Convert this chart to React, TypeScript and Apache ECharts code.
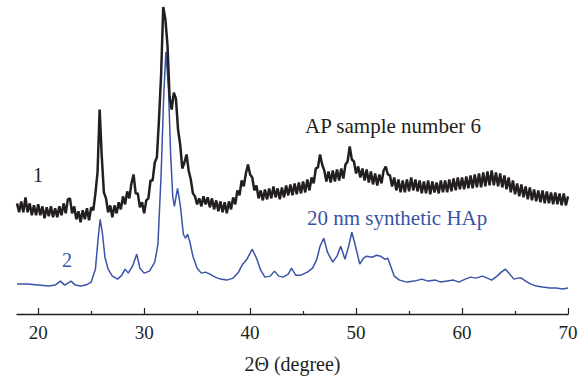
import React, { useEffect, useRef } from "react";
import * as echarts from "echarts";

// Sample 1 (AP sample number 6): intensities sampled every 0.2° from 18° to 70°
const blackStart = 18;
const blackStep = 0.2;
const blackValues = [
  111, 102, 113, 102, 117, // 18
  102, 111, 99, 109, 99, // 19
  110, 99, 108, 96, 107, // 20
  98, 108, 97, 106, 97, // 21
  108, 99, 111, 101, 115, // 22
  116, 101, 108, 95, 103, // 23
  92, 104, 95, 106, 94, // 24
  107, 104, 121, 142, 205, // 25
  158, 122, 116, 102, 109, // 26
  97, 109, 101, 112, 105, // 27
  118, 110, 123, 116, 131, // 28
  140, 121, 121, 107, 112, // 29
  101, 114, 116, 134, 134, // 30
  152, 157, 195, 240, 308, // 31
  296, 270, 218, 205, 222, // 32
  216, 185, 170, 146, 152, // 33
  160, 144, 135, 121, 118, // 34
  110, 116, 108, 118, 110, // 35
  117, 107, 116, 105, 114, // 36
  103, 113, 102, 112, 101, // 37
  113, 105, 117, 110, 124, // 38
  119, 134, 128, 141, 150, // 39
  140, 137, 124, 129, 116, // 40
  124, 114, 125, 115, 126, // 41
  116, 128, 117, 126, 115, // 42
  127, 117, 129, 119, 130, // 43
  119, 131, 120, 132, 121, // 44
  133, 122, 135, 124, 137, // 45
  131, 146, 147, 160, 150, // 46
  144, 133, 143, 132, 144, // 47
  133, 145, 134, 146, 136, // 48
  150, 153, 168, 155, 153, // 49
  141, 148, 137, 146, 134, // 50
  145, 132, 143, 130, 141, // 51
  129, 140, 131, 144, 148, // 52
  140, 139, 128, 137, 124, // 53
  135, 122, 134, 122, 135, // 54
  123, 137, 124, 135, 123, // 55
  134, 121, 133, 121, 134, // 56
  120, 133, 122, 132, 121, // 57
  134, 122, 134, 122, 135, // 58
  123, 136, 124, 137, 125, // 59
  137, 125, 138, 126, 139, // 60
  126, 140, 127, 141, 127, // 61
  142, 128, 143, 129, 144, // 62
  129, 142, 128, 141, 127, // 63
  139, 125, 137, 122, 134, // 64
  120, 131, 118, 130, 117, // 65
  128, 115, 127, 114, 125, // 66
  113, 124, 112, 124, 111, // 67
  123, 111, 122, 110, 122, // 68
  110, 121, 109, 121, 109, // 69
  118, // 70
];

// Sample 2 (20 nm synthetic HAp)
const blueX = [
  18, 19, 20, 21, 21.6, 22.1, 22.5, 23.1, 23.5, 24, 24.5, 25, 25.4, 25.65, 25.85, 26.05,
  26.3, 26.6, 27, 27.5, 27.9, 28.2, 28.5, 28.9, 29.3, 29.6, 30, 30.5, 31, 31.3, 31.6,
  31.85, 32.05, 32.3, 32.5, 32.7, 32.85, 33.15, 33.4, 33.7, 33.9, 34.1, 34.3, 34.6, 35,
  35.4, 35.8, 36.2, 36.7, 37.2, 37.8, 38.4, 38.9, 39.3, 39.7, 40.2, 40.6, 41, 41.4, 41.9,
  42.3, 42.7, 43.1, 43.6, 43.9, 44.3, 44.8, 45.4, 45.9, 46.3, 46.6, 46.95, 47.3, 47.8,
  48.2, 48.55, 48.95, 49.3, 49.6, 49.9, 50.35, 50.7, 51, 51.5, 51.95, 52.3, 52.7, 53,
  53.3, 53.6, 54.1, 54.8, 55.5, 56.2, 56.8, 57.5, 58, 58.6, 59.2, 59.7, 60.3, 60.8, 61.3,
  61.9, 62.4, 62.8, 63.3, 63.7, 64.1, 64.5, 64.9, 65.3, 65.6, 66, 66.5, 67, 67.6, 68.3,
  68.9, 69.5, 70,
];
const blueY = [
  30, 30, 29, 28, 29, 33, 29, 33, 29, 28, 29, 32, 45, 75, 95, 82,
  57, 45, 38, 35, 39, 45, 41, 48, 60, 46, 41, 43, 52, 70, 140,
  220, 263, 225, 160, 118, 108, 126, 110, 80, 76, 80, 73, 58, 46,
  41, 42, 40, 37, 35, 34, 36, 42, 50, 55, 65, 56, 44, 37, 38,
  43, 38, 37, 40, 46, 39, 39, 42, 46, 55, 68, 76, 62, 52,
  58, 68, 55, 68, 82, 70, 50, 56, 58, 57, 59, 58, 55, 56,
  47, 38, 34, 32, 33, 35, 33, 34, 32, 33, 34, 32, 35, 37, 36,
  38, 36, 34, 38, 42, 45, 40, 35, 36, 36, 33, 30, 28, 27, 26,
  26, 25, 26,
];

const majorTicks = [20, 30, 40, 50, 60, 70];
const minorTicks = [25, 35, 45, 55, 65];

const FONT = '"Liberation Serif", "Times New Roman", serif';
const BLACK = "#231f20";
const BLUE = "#3a53a6";

export default function App() {
  const ref = useRef<HTMLDivElement>(null);
  useEffect(() => {
    document.body.style.margin = "0";
    if (!ref.current) return;
    const chart = echarts.init(ref.current, undefined, { renderer: "svg" });
    const blackData = blackValues.map((v, i) => [blackStart + i * blackStep, v]);
    const blueData = blueX.map((x, i) => [x, blueY[i]]);
    chart.setOption({
      animation: false,
      backgroundColor: "#ffffff",
      grid: { left: 17, right: 16, top: 5, bottom: 64 },
      xAxis: [
        {
          type: "value",
          min: 18,
          max: 70,
          name: "2Θ (degree)",
          nameLocation: "middle",
          nameGap: 40,
          nameTextStyle: { fontFamily: FONT, fontSize: 20, color: BLACK },
          axisLine: { show: true, lineStyle: { color: BLACK, width: 1.3 } },
          axisTick: { show: true, inside: true, length: 6, customValues: majorTicks, lineStyle: { color: BLACK, width: 1.2 } },
          axisLabel: { customValues: majorTicks, margin: 9, fontFamily: FONT, fontSize: 19, color: BLACK },
          splitLine: { show: false },
        },
        {
          type: "value",
          min: 18,
          max: 70,
          position: "bottom",
          axisLine: { show: false },
          axisTick: { show: true, inside: true, length: 3, customValues: minorTicks, lineStyle: { color: BLACK, width: 1.2 } },
          axisLabel: { show: false },
          splitLine: { show: false },
        },
      ],
      yAxis: { type: "value", min: 0, max: 310, show: false },
      series: [
        {
          type: "line",
          data: blackData,
          showSymbol: false,
          lineStyle: { color: BLACK, width: 2.5 },
          z: 3,
        },
        {
          type: "line",
          data: blueData,
          showSymbol: false,
          lineStyle: { color: BLUE, width: 1.5 },
          z: 2,
        },
      ],
      graphic: [
        { type: "text", x: 305, y: 126, style: { text: "AP sample number 6", font: `21px ${FONT}`, fill: BLACK, align: "left", verticalAlign: "middle" } },
        { type: "text", x: 307, y: 218, style: { text: "20 nm synthetic HAp", font: `21px ${FONT}`, fill: BLUE, align: "left", verticalAlign: "middle" } },
        { type: "text", x: 38, y: 175, style: { text: "1", font: `20px ${FONT}`, fill: BLACK, align: "center", verticalAlign: "middle" } },
        { type: "text", x: 67, y: 260, style: { text: "2", font: `20px ${FONT}`, fill: BLUE, align: "center", verticalAlign: "middle" } },
      ],
    });
    return () => chart.dispose();
  }, []);
  return <div ref={ref} style={{ width: 584, height: 379 }} />;
}
